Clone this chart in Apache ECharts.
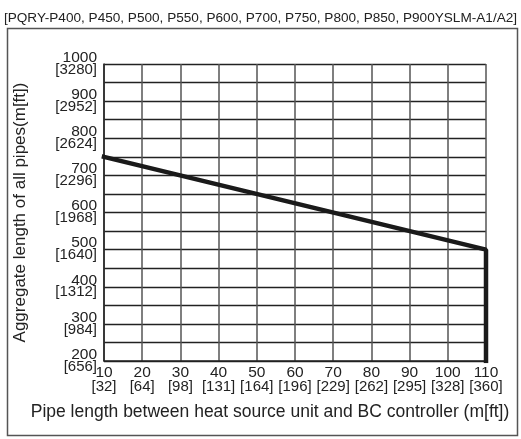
<!DOCTYPE html>
<html>
<head>
<meta charset="utf-8">
<script src="https://cdn.jsdelivr.net/npm/echarts@6/dist/echarts.min.js"></script>
<style>html,body{margin:0;padding:0;background:#fff;}#c{width:521px;height:439px;}</style>
</head>
<body>
<div id="c"></div>
<script>
const titleText = '[PQRY-P400, P450, P500, P550, P600, P700, P750, P800, P850, P900YSLM-A1/A2]';
const xName = 'Pipe length between heat source unit and BC controller (m[ft])';
const yName = 'Aggregate length of all pipes(m[ft])';
const xTicks = [10, 20, 30, 40, 50, 60, 70, 80, 90, 100, 110];
const xTickFt = ['32', '64', '98', '131', '164', '196', '229', '262', '295', '328', '360'];
const yTicks = [200, 300, 400, 500, 600, 700, 800, 900, 1000];
const yTickFt = ['656', '984', '1312', '1640', '1968', '2296', '2624', '2952', '3280'];
const lineX = [10, 110, 110];
const lineY = [750, 500, 200];

const FONT = 'Liberation Sans, Arial, sans-serif';
const NARROW = 'Liberation Sans Narrow, Arial Narrow, Liberation Sans, sans-serif';
const chart = echarts.init(document.getElementById('c'));
chart.setOption({
  animation: false,
  backgroundColor: '#fff',
  title: {
    text: titleText, left: 'center', top: 6,
    textStyle: {fontFamily: FONT, fontSize: 13.6, fontWeight: 'normal', color: '#222'}
  },
  graphic: [{
    type: 'rect', shape: {x: 7.5, y: 28.5, width: 510, height: 407}, z: -1,
    style: {fill: 'none', stroke: '#555', lineWidth: 1.5}
  }],
  grid: {left: 104, right: 35, top: 64, bottom: 78},
  xAxis: {
    type: 'value', min: 10, max: 110, interval: 10,
    name: xName, nameLocation: 'middle', nameGap: 42,
    nameTextStyle: {fontFamily: FONT, fontSize: 17.5, color: '#222', padding: [0, 50, 0, 0]},
    axisLine: {show: true, lineStyle: {color: '#222', width: 1.5}},
    axisTick: {show: false},
    splitLine: {show: true, lineStyle: {color: '#555', width: 1.5}},
    axisLabel: {
      margin: 5,
      formatter: function (v) {
        const i = xTicks.indexOf(v);
        return i < 0 ? '' : '{a|' + v + '}\n{b|[' + xTickFt[i] + ']}';
      },
      rich: {
        a: {fontFamily: FONT, fontSize: 15.5, color: '#222', lineHeight: 14},
        b: {fontFamily: NARROW, fontSize: 15, color: '#222', lineHeight: 13}
      }
    }
  },
  yAxis: {
    type: 'value', min: 200, max: 1000, interval: 50,
    name: yName, nameLocation: 'middle', nameGap: 75,
    nameTextStyle: {fontFamily: FONT, fontSize: 17, color: '#222'},
    axisLine: {show: true, lineStyle: {color: '#222', width: 1.5}},
    axisTick: {show: false},
    splitLine: {show: true, lineStyle: {color: '#222', width: 1.3}},
    axisLabel: {
      margin: 7, align: 'right',
      formatter: function (v) {
        const i = yTicks.indexOf(v);
        return i < 0 ? '' : '{a|' + v + '}\n{b|[' + yTickFt[i] + ']}';
      },
      rich: {
        a: {fontFamily: FONT, fontSize: 15.5, color: '#222', lineHeight: 11, align: 'right'},
        b: {fontFamily: NARROW, fontSize: 15, color: '#222', lineHeight: 13, align: 'right'}
      }
    }
  },
  series: [{
    type: 'line', symbol: 'none',
    data: lineX.map((x, i) => [x, lineY[i]]),
    lineStyle: {color: '#1a1a1a', width: 4.5, cap: 'square'},
    z: 5
  }]
});
</script>
</body>
</html>
